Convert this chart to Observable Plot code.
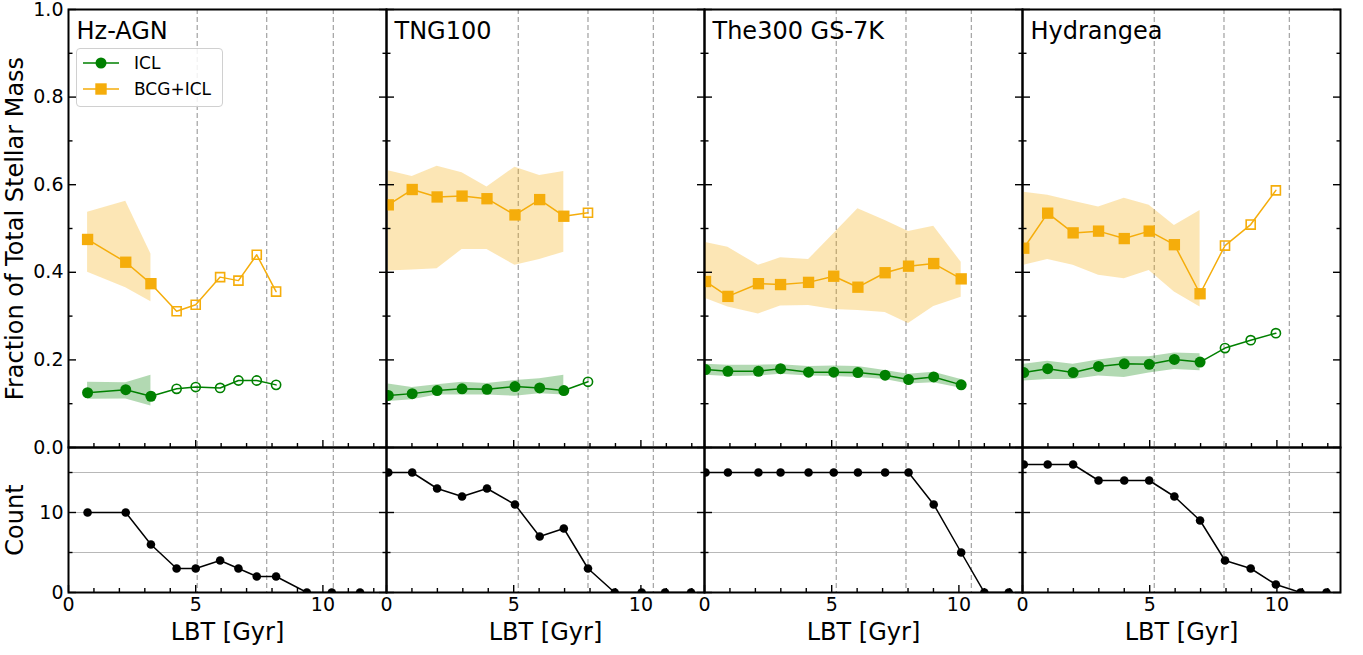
<!DOCTYPE html>
<html><head><meta charset="utf-8">
<script src="https://cdn.jsdelivr.net/npm/d3@7"></script>
<script src="https://cdn.jsdelivr.net/npm/@observablehq/plot@0.6"></script>
<style>
body{margin:0;background:#fff;font-family:"DejaVu Sans",sans-serif;}
#root{position:relative;width:1363px;height:655px;overflow:hidden;background:#fff;}
#root svg{position:absolute;}
.legend{position:absolute;left:76px;top:48px;width:145px;height:57px;border:1px solid #d0d0d0;border-radius:4px;background:rgba(255,255,255,0.85);font-family:"DejaVu Sans",sans-serif;font-size:17px;}
.legend .row{position:absolute;left:6px;height:20px;display:flex;align-items:center;}
.legend .row span{margin-left:15px;}
</style></head><body><div id="root"></div>
<script>
// ---------- data ----------
const sims = ["Hz-AGN", "TNG100", "The300 GS-7K", "Hydrangea"];

// Hz-AGN
const hzLbt = [0.75, 2.25, 3.24, 4.25, 5.0, 5.96, 6.68, 7.4, 8.16];
const hzIcl = [0.125, 0.132, 0.117, 0.134, 0.138, 0.136, 0.153, 0.153, 0.143];
const hzBcgIcl = [0.475, 0.423, 0.374, 0.311, 0.326, 0.389, 0.381, 0.440, 0.356];
const hzFilled = 3;
const hzIclLo = [0.110, 0.111, 0.095];
const hzIclHi = [0.149, 0.148, 0.165];
const hzBcgLo = [0.400, 0.365, 0.333];
const hzBcgHi = [0.537, 0.562, 0.442];
const hzCountLbt = [0.75, 2.25, 3.24, 4.25, 5.0, 5.96, 6.68, 7.4, 8.16, 9.37, 10.35, 11.46];
const hzCount = [10, 10, 6, 3, 3, 4, 3, 2, 2, 0, 0, 0];
const hzZ = [5.06, 7.79, 10.41];

// TNG100
const tngLbt = [0.07, 1.01, 1.99, 2.97, 3.95, 5.05, 6.02, 6.97, 7.92];
const tngIcl = [0.119, 0.123, 0.130, 0.134, 0.133, 0.139, 0.136, 0.130, 0.150];
const tngBcgIcl = [0.554, 0.589, 0.572, 0.574, 0.568, 0.531, 0.566, 0.528, 0.536];
const tngFilled = 8;
const tngIclLo = [0.105, 0.109, 0.120, 0.120, 0.120, 0.117, 0.123, 0.120];
const tngIclHi = [0.145, 0.137, 0.143, 0.149, 0.146, 0.153, 0.157, 0.165];
const tngBcgLo = [0.403, 0.405, 0.408, 0.452, 0.452, 0.416, 0.429, 0.446];
const tngBcgHi = [0.632, 0.619, 0.642, 0.627, 0.595, 0.640, 0.621, 0.630];
const tngCountLbt = [0.07, 1.01, 1.99, 2.97, 3.95, 5.05, 6.02, 6.97, 7.92, 8.97, 10.03, 10.95, 11.97];
const tngCount = [15, 15, 13, 12, 13, 11, 7, 8, 3, 0, 0, 0, 0];
const tngZ = [5.18, 7.92, 10.49];

// The300 GS-7K
const t300Lbt = [0.04, 0.92, 2.12, 2.99, 4.09, 5.08, 6.03, 7.1, 8.02, 9.01, 10.09];
const t300Icl = [0.178, 0.174, 0.174, 0.180, 0.172, 0.172, 0.171, 0.165, 0.155, 0.161, 0.143];
const t300BcgIcl = [0.379, 0.345, 0.374, 0.372, 0.377, 0.391, 0.366, 0.399, 0.414, 0.420, 0.385];
const t300Filled = 11;
const t300IclLo = [0.165, 0.162, 0.163, 0.167, 0.163, 0.162, 0.160, 0.155, 0.145, 0.148, 0.135];
const t300IclHi = [0.190, 0.188, 0.188, 0.189, 0.185, 0.186, 0.185, 0.176, 0.167, 0.172, 0.155];
const t300BcgLo = [0.340, 0.321, 0.305, 0.323, 0.324, 0.315, 0.313, 0.308, 0.283, 0.322, 0.343];
const t300BcgHi = [0.468, 0.457, 0.416, 0.433, 0.429, 0.488, 0.545, 0.518, 0.493, 0.505, 0.423];
const t300CountLbt = [0.04, 0.92, 2.12, 2.99, 4.09, 5.08, 6.03, 7.1, 8.02, 9.01, 10.09, 11.0, 11.96];
const t300Count = [15, 15, 15, 15, 15, 15, 15, 15, 15, 11, 5, 0, 0];
const t300Z = [5.18, 7.92, 10.49];

// Hydrangea
const hydLbt = [0.05, 0.99, 1.99, 2.99, 4.0, 4.98, 5.97, 6.98, 7.96, 8.97, 9.96];
const hydIcl = [0.171, 0.180, 0.171, 0.185, 0.191, 0.190, 0.201, 0.195, 0.227, 0.245, 0.261];
const hydBcgIcl = [0.455, 0.535, 0.490, 0.494, 0.477, 0.494, 0.463, 0.351, 0.461, 0.509, 0.587];
const hydFilled = 8;
const hydIclLo = [0.152, 0.155, 0.155, 0.163, 0.160, 0.170, 0.178, 0.175];
const hydIclHi = [0.190, 0.197, 0.190, 0.200, 0.207, 0.207, 0.216, 0.214];
const hydBcgLo = [0.416, 0.429, 0.416, 0.393, 0.385, 0.404, 0.355, 0.321];
const hydBcgHi = [0.583, 0.576, 0.562, 0.549, 0.569, 0.553, 0.507, 0.541];
const hydCountLbt = [0.05, 0.99, 1.99, 2.99, 4.0, 4.98, 5.97, 6.98, 7.96, 8.97, 9.96, 10.93, 11.95];
const hydCount = [16, 16, 16, 14, 14, 14, 12, 9, 4, 3, 1, 0, 0];
const hydZ = [5.18, 7.92, 10.49];

const fracTicksMajor = [0, 0.2, 0.4, 0.6, 0.8, 1.0];
const fracTicksMinor = [0.1, 0.3, 0.5, 0.7, 0.9];
const countTicksMajor = [0, 10];
const countTicksMinor = [5, 15];
const countGrid = [5, 10, 15];
const lbtTicksMajor = [0, 5, 10];
const lbtTicksMinor = [1, 2, 3, 4, 6, 7, 8, 9, 11, 12];

// ---------- build ----------
const panels = [
  [hzLbt, hzIcl, hzBcgIcl, hzFilled, hzIclLo, hzIclHi, hzBcgLo, hzBcgHi, hzCountLbt, hzCount, hzZ],
  [tngLbt, tngIcl, tngBcgIcl, tngFilled, tngIclLo, tngIclHi, tngBcgLo, tngBcgHi, tngCountLbt, tngCount, tngZ],
  [t300Lbt, t300Icl, t300BcgIcl, t300Filled, t300IclLo, t300IclHi, t300BcgLo, t300BcgHi, t300CountLbt, t300Count, t300Z],
  [hydLbt, hydIcl, hydBcgIcl, hydFilled, hydIclLo, hydIclHi, hydBcgLo, hydBcgHi, hydCountLbt, hydCount, hydZ]
];

const green = "#008000", orange = "#f5ad0b";
const W = 318, PAD = 62;
const panelLeft = [68, 386, 704, 1022];
const root = document.getElementById("root");
const font = "DejaVu Sans";
const tickFont = 19, labelFont = 24;

function pts(xs, ys, nf) { return xs.map((x, i) => ({x, y: ys[i], filled: i < nf})); }
function band(xs, lo, hi) { return lo.map((l, i) => ({x: xs[i], lo: l, hi: hi[i]})); }

function ticksY(major, minor) {
  const o = {label: null, fill: "none", stroke: "black", strokeWidth: 1.4};
  return [
    Plot.axisY(major, {...o, anchor: "left", tickSize: -8}),
    Plot.axisY(major, {...o, anchor: "right", tickSize: -8}),
    Plot.axisY(minor, {...o, anchor: "left", tickSize: -4.5}),
    Plot.axisY(minor, {...o, anchor: "right", tickSize: -4.5})
  ];
}
function ticksX() {
  const o = {label: null, fill: "none", stroke: "black", strokeWidth: 1.4, anchor: "bottom"};
  return [
    Plot.axisX(lbtTicksMajor, {...o, tickSize: -7}),
    Plot.axisX(lbtTicksMinor, {...o, tickSize: -4})
  ];
}

panels.forEach((p, i) => {
  const [lbt, icl, bcg, nf, iclLo, iclHi, bcgLo, bcgHi, cLbt, cnt, zl] = p;
  const iclP = pts(lbt, icl, nf), bcgP = pts(lbt, bcg, nf);
  const first = i === 0;

  const top = Plot.plot({
    width: W + 2 * PAD, height: 460,
    marginLeft: PAD, marginRight: PAD, marginTop: 9, marginBottom: 13,
    x: {domain: [0, 12.5]}, y: {domain: [0, 1]},
    style: {fontFamily: font, fontSize: "19px", overflow: "visible", background: "transparent", color: "black"},
    marks: [
      Plot.ruleX(zl, {stroke: "#a8a8a8", strokeWidth: 1.3, strokeDasharray: "5,3"}),
      Plot.areaY(band(lbt, iclLo, iclHi), {x: "x", y1: "lo", y2: "hi", fill: green, fillOpacity: 0.3, clip: true}),
      Plot.areaY(band(lbt, bcgLo, bcgHi), {x: "x", y1: "lo", y2: "hi", fill: orange, fillOpacity: 0.3, clip: true}),
      Plot.line(iclP, {x: "x", y: "y", stroke: green, strokeWidth: 1.5, clip: true}),
      Plot.line(bcgP, {x: "x", y: "y", stroke: orange, strokeWidth: 1.5, clip: true}),
      Plot.dot(iclP.filter(d => d.filled), {x: "x", y: "y", r: 5.5, fill: green, stroke: "none", clip: true}),
      Plot.dot(iclP.filter(d => !d.filled), {x: "x", y: "y", r: 4.6, fill: "none", stroke: green, strokeWidth: 1.6, clip: true}),
      Plot.dot(bcgP.filter(d => d.filled), {x: "x", y: "y", r: 6.4, symbol: "square", fill: orange, stroke: "none", clip: true}),
      Plot.dot(bcgP.filter(d => !d.filled), {x: "x", y: "y", r: 5.1, symbol: "square", fill: "none", stroke: orange, strokeWidth: 1.6, clip: true}),
      Plot.frame({stroke: "black", strokeWidth: 2}),
      ...ticksY(fracTicksMajor, fracTicksMinor),
      ...ticksX(),
      first ? Plot.axisY(fracTicksMajor, {anchor: "left", tickSize: 0, tickPadding: 5, tickFormat: d3.format(".1f"), label: null, fontSize: tickFont}) : null,
      first ? Plot.text(["Fraction of Total Stellar Mass"], {frameAnchor: "left", dx: -53, rotate: -90, textAnchor: "middle", lineAnchor: "middle", fontSize: labelFont}) : null,
      Plot.text([sims[i]], {frameAnchor: "top-left", dx: 8, dy: 29, lineAnchor: "bottom", textAnchor: "start", fontSize: labelFont})
    ]
  });
  top.style.left = (panelLeft[i] - PAD) + "px";
  top.style.top = "0px";
  root.appendChild(top);

  const cP = cLbt.map((x, k) => ({x, y: cnt[k]}));
  const bot = Plot.plot({
    width: W + 2 * PAD, height: 215,
    marginLeft: PAD, marginRight: PAD, marginTop: 7, marginBottom: 63,
    x: {domain: [0, 12.5]}, y: {domain: [0, 18.125]},
    style: {fontFamily: font, fontSize: "19px", overflow: "visible", background: "transparent", color: "black"},
    marks: [
      Plot.ruleY(countGrid, {stroke: "#b8b8b8", strokeWidth: 1}),
      Plot.ruleX(zl, {stroke: "#a8a8a8", strokeWidth: 1.3, strokeDasharray: "5,3"}),
      Plot.line(cP, {x: "x", y: "y", stroke: "black", strokeWidth: 1.5, clip: true}),
      Plot.dot(cP, {x: "x", y: "y", r: 4.3, fill: "black", stroke: "none", clip: true}),
      Plot.frame({stroke: "black", strokeWidth: 2}),
      ...ticksY(countTicksMajor, countTicksMinor),
      ...ticksX(),
      Plot.axisX(lbtTicksMajor, {anchor: "bottom", tickSize: 0, tickPadding: 5, label: null, fontSize: tickFont}),
      first ? Plot.axisY(countTicksMajor, {anchor: "left", tickSize: 0, tickPadding: 5, label: null, fontSize: tickFont}) : null,
      first ? Plot.text(["Count"], {frameAnchor: "left", dx: -53, rotate: -90, textAnchor: "middle", lineAnchor: "middle", fontSize: labelFont}) : null,
      Plot.text(["LBT [Gyr]"], {frameAnchor: "bottom", dy: 40, lineAnchor: "middle", textAnchor: "middle", fontSize: labelFont})
    ]
  });
  bot.style.left = (panelLeft[i] - PAD) + "px";
  bot.style.top = "440px";
  root.appendChild(bot);
});

// legend
const leg = document.createElement("div");
leg.className = "legend";
leg.innerHTML = `
<div class="row" style="top:4px"><svg width="36" height="20" style="position:static"><line x1="0" y1="10" x2="36" y2="10" stroke="${green}" stroke-width="1.5"/><circle cx="18" cy="10" r="5.5" fill="${green}"/></svg><span>ICL</span></div>
<div class="row" style="top:30px"><svg width="36" height="20" style="position:static"><line x1="0" y1="10" x2="36" y2="10" stroke="${orange}" stroke-width="1.5"/><rect x="12.3" y="4.3" width="11.4" height="11.4" fill="${orange}"/></svg><span>BCG+ICL</span></div>`;
root.appendChild(leg);
</script></body></html>
